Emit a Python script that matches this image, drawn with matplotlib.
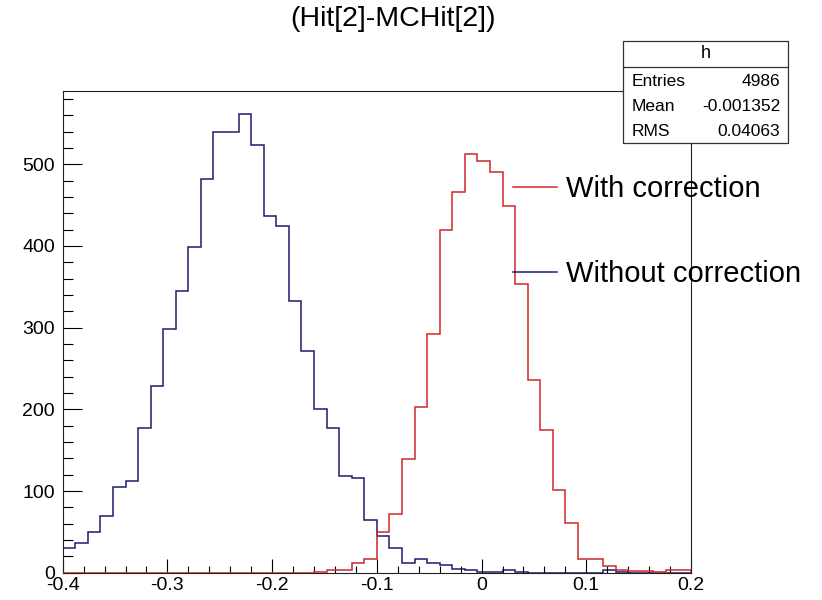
import numpy as np
import matplotlib
matplotlib.use("Agg")
import matplotlib.pyplot as plt
from matplotlib.patches import Rectangle
from matplotlib.lines import Line2D
from matplotlib.ticker import MultipleLocator

plt.rcParams['font.family'] = ['Liberation Sans', 'DejaVu Sans']

# 50 bins between -0.4 and 0.2
x_min, x_max, n_bins = -0.4, 0.2, 50

without_corr = [30, 36, 50, 70, 105, 112, 177, 228, 298, 345,
                399, 482, 539, 540, 562, 524, 437, 425, 333, 271,
                200, 177, 119, 116, 65, 45, 30, 12, 17, 12,
                9, 5, 3, 1, 1, 4, 1, 0, 0, 0,
                0, 0, 0, 4, 1, 0, 0, 0, 0, 0]
with_corr = [0, 0, 0, 0, 0, 0, 0, 0, 0, 0,
             0, 0, 0, 0, 0, 0, 0, 0, 0, 0,
             1, 3, 4, 12, 17, 50, 72, 139, 203, 292,
             420, 466, 512, 504, 491, 449, 353, 236, 175, 101,
             61, 17, 17, 8, 3, 2, 2, 1, 3, 3]

x_ticks = [-0.4, -0.3, -0.2, -0.1, 0.0, 0.1, 0.2]
x_labels = ["-0.4", "-0.3", "-0.2", "-0.1", "0", "0.1", "0.2"]
y_ticks = [0, 100, 200, 300, 400, 500]
y_labels = ["0", "100", "200", "300", "400", "500"]

stats_names = ["Entries", "Mean", "RMS"]
stats_values = ["4986", "-0.001352", "0.04063"]

W, H = 822, 600


def fx(px):
    return px / W


def fy(py):
    return 1 - py / H


fig = plt.figure(figsize=(W / 100, H / 100), dpi=100)
ax = fig.add_axes([fx(62.7), fy(572.8), fx(691) - fx(62.7), fy(90.7) - fy(572.8)])

edges = np.linspace(x_min, x_max, n_bins + 1)
red = ax.stairs(with_corr, edges, color="#d0282a", linewidth=1.1, label="With correction")
blue = ax.stairs(without_corr, edges, color="#1c1c6e", linewidth=1.1, label="Without correction")
# red drawn on top near the baseline like in ROOT
red.set_zorder(3)

ax.set_xlim(x_min, x_max)
ax.set_ylim(0, 590)

ax.set_xticks(x_ticks)
ax.set_xticklabels(x_labels)
ax.set_yticks(y_ticks)
ax.set_yticklabels(y_labels)
ax.xaxis.set_minor_locator(MultipleLocator(0.02))
ax.yaxis.set_minor_locator(MultipleLocator(20))

ax.tick_params(axis="x", which="major", direction="in", length=10, width=0.8, labelsize=14, pad=3)
ax.tick_params(axis="x", which="minor", direction="in", length=5, width=0.8)
ax.tick_params(axis="y", which="major", direction="in", length=13.5, width=0.8, labelsize=14, pad=5.5)
ax.tick_params(axis="y", which="minor", direction="in", length=7, width=0.8)
ax.tick_params(top=False, right=False, which="both")
for sp in ax.spines.values():
    sp.set_linewidth(0.8)
    sp.set_color("#222222")

fig.text(fx(393), fy(19), "(Hit[2]-MCHit[2])", ha="center", va="center", fontsize=20.5)

# legend, ROOT style: line then text, no frame
ax.legend(handles=[red, blue], loc="upper left",
          bbox_to_anchor=(fx(513), fy(175)), bbox_transform=fig.transFigure,
          frameon=False, fontsize=21, handlelength=1.5, handletextpad=0.3,
          borderpad=0, borderaxespad=0, labelspacing=1.95)

# stats box
bx0, bx1, by0, by1, bsep = 623.3, 788.3, 41, 143.3, 66.7
fig.add_artist(Rectangle((fx(bx0), fy(by1)), fx(bx1) - fx(bx0), fy(by0) - fy(by1),
                         transform=fig.transFigure, facecolor="white",
                         edgecolor="#333333", linewidth=0.9, zorder=5))
fig.add_artist(Line2D([fx(bx0), fx(bx1)], [fy(bsep), fy(bsep)],
                      transform=fig.transFigure, color="#333333", linewidth=0.9, zorder=6))
fig.text(fx((bx0 + bx1) / 2), fy(54), "h", ha="center", va="center", fontsize=13, zorder=7)
for i, (name, val) in enumerate(zip(stats_names, stats_values)):
    yy = fy(81 + i * 25.5)
    fig.text(fx(631.5), yy, name, ha="left", va="center", fontsize=12.5, zorder=7)
    fig.text(fx(780), yy, val, ha="right", va="center", fontsize=12.5, zorder=7)

fig.savefig("out.png", dpi=100)
